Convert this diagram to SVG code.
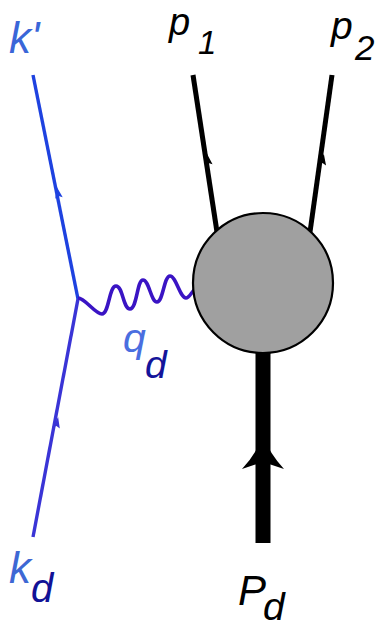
<svg xmlns="http://www.w3.org/2000/svg" width="378" height="627" viewBox="0 0 378 627">
<style>
.lbl{font-family:"Liberation Sans",Arial,sans-serif;font-style:italic}
.fer{fill:none;stroke-linecap:butt}
</style>
<defs>
<polygon id="ah" points="0,-6 3.8,5 0,3 -3.8,5"/>
</defs>
<rect width="378" height="627" fill="#ffffff"/>
<g id="connectors">
  <line class="fer" x1="78" y1="299" x2="33" y2="75" stroke="#1e42e0" stroke-width="3.4"/>
  <use href="#ah" transform="translate(58,193) rotate(-11.4)" fill="#1e42e0"/>
  <line class="fer" x1="33" y1="537" x2="78" y2="299" stroke="#3a34d6" stroke-width="3.4"/>
  <use href="#ah" transform="translate(57,423) rotate(10.7)" fill="#3a34d6"/>
  <path class="fer" d="M78,298 C85,298 95,314 102,314 C109,314 109,286 116,286 C123,286 123,309 130,309 C137,309 137,280 143,280 C149,280 151,302 157,302 C163,302 164,276 170,276 C176,276 180,298 186,298 C189,298 191,293 195,289" stroke="#3a14c4" stroke-width="3.6" stroke-linejoin="round"/>
  <line class="fer" x1="217" y1="232" x2="193" y2="75" stroke="#000" stroke-width="5"/>
  <use href="#ah" transform="translate(208,160) rotate(-8.8)" fill="#000"/>
  <line class="fer" x1="310" y1="232" x2="332" y2="75" stroke="#000" stroke-width="5"/>
  <use href="#ah" transform="translate(323,160) rotate(8.1)" fill="#000"/>
  <line class="fer" x1="263" y1="350" x2="263" y2="543" stroke="#000" stroke-width="15"/>
  <path d="M263,436 Q270,454 284,469 L263,462 L242,469 Q256,454 263,436 Z" fill="#000"/>
</g>
<g id="blob">
  <circle cx="263" cy="283" r="70" fill="#a0a0a0" stroke="#000" stroke-width="2.2"/>
</g>
<g id="label-kprime"><text class="lbl" x="9" y="53" font-size="44" fill="#3a66d8">k'</text></g>
<g id="label-p1"><text class="lbl" x="169" y="35" font-size="38" fill="#000">p</text><text class="lbl" x="198" y="54" font-size="33" fill="#000">1</text></g>
<g id="label-p2"><text class="lbl" x="331" y="39" font-size="39" fill="#000">p</text><text class="lbl" x="355" y="60" font-size="35" fill="#000">2</text></g>
<g id="label-qd"><text class="lbl" x="123" y="352" font-size="41" fill="#4a6ee0">q</text><text class="lbl" x="145" y="378" font-size="39" fill="#14149a">d</text></g>
<g id="label-kd"><text class="lbl" x="9" y="583" font-size="44" fill="#3e68d4">k</text><text class="lbl" x="31" y="602" font-size="40" fill="#121296">d</text></g>
<g id="label-Pd"><text class="lbl" x="238" y="605" font-size="42" fill="#000">P</text><text class="lbl" x="263" y="620" font-size="39" fill="#000">d</text></g>
</svg>
